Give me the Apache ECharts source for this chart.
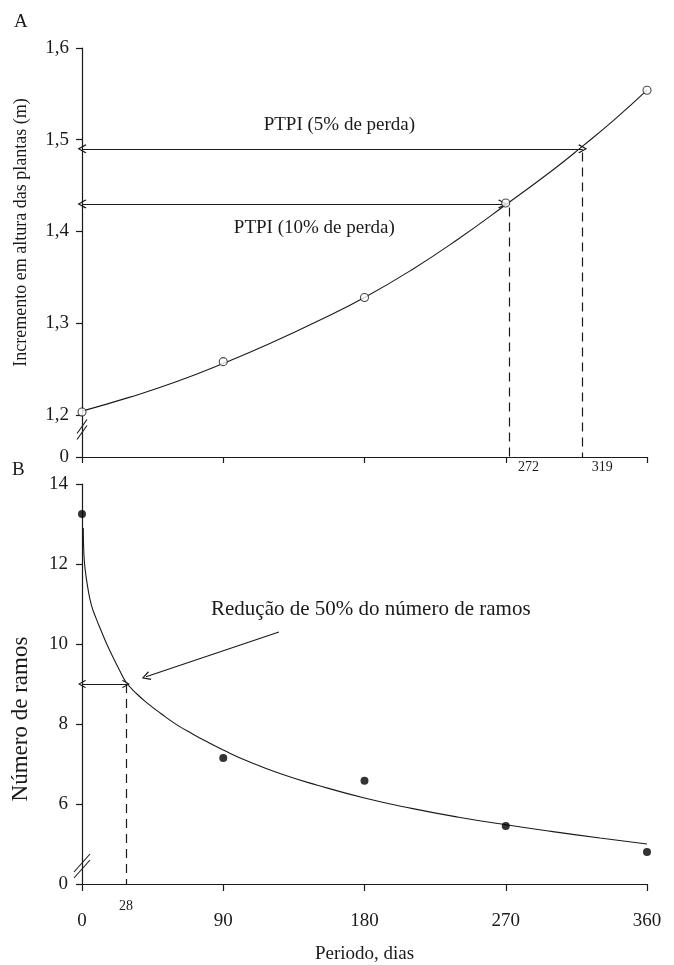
<!DOCTYPE html>
<html><head><meta charset="utf-8">
<script src="https://cdn.jsdelivr.net/npm/echarts@6/dist/echarts.min.js"></script>
<style>html,body{margin:0;padding:0;background:#fff}#c{width:674px;height:965px}</style>
</head><body><div id="c"></div>
<script>
const FONT = "'Liberation Serif','Times New Roman',serif";
const INK = '#1a1a1a';

// ---------- Panel A: Incremento em altura ----------
const heightDays = [0, 90, 180, 270, 360];
const heightValues = [1.203, 1.258, 1.328, 1.431, 1.554];
const heightCurveDays = [0, 30, 60, 90, 120, 150, 180, 210, 240, 270, 300, 319, 340, 360];
const heightCurveValues = [1.204, 1.219, 1.236, 1.256, 1.278, 1.302, 1.328, 1.358, 1.392, 1.429, 1.467, 1.493, 1.523, 1.554];
const heightTicks = [1.154, 1.2, 1.3, 1.4, 1.5, 1.6];
const heightTickLabels = ['0', '1,2', '1,3', '1,4', '1,5', '1,6'];
const heightMarkDays = [272, 319];
const ptpi10 = {day: 272, value: 1.43, label: 'PTPI (10% de perda)', labelAt: [148, 1.404]};
const ptpi5 = {day: 319, value: 1.49, label: 'PTPI (5% de perda)', labelAt: [164, 1.516]};

// ---------- Panel B: Número de ramos ----------
const branchDays = [0, 90, 180, 270, 360];
const branchValues = [13.25, 7.15, 6.58, 5.45, 4.8];
const branchCurveDays = [0.8, 1.2, 2, 3.6, 6, 9, 12, 16, 20, 24, 28, 35, 42, 50, 60, 71, 80, 90, 105, 127, 150, 180, 210, 240, 270, 300, 330, 360];
const branchCurveValues = [12.9, 12.25, 11.87, 11.43, 10.97, 10.64, 10.35, 9.98, 9.65, 9.34, 9.05, 8.75, 8.51, 8.27, 7.99, 7.74, 7.55, 7.35, 7.08, 6.75, 6.47, 6.15, 5.89, 5.67, 5.48, 5.31, 5.15, 5.0];
const branchTicks = [4, 6, 8, 10, 12, 14];
const branchTickLabels = ['0', '6', '8', '10', '12', '14'];
const dayTicks = [0, 90, 180, 270, 360];
const half = {day: 28, value: 9.0};
const halfNote = {text: 'Redução de 50% do número de ramos', labelAt: [184, 10.875], from: [125.5, 10.3], to: [40.8, 9.18]};

const ARROW = 'path://M50,0 L100,88 L90,100 L50,26 L10,100 L0,88 Z';

function fmt(ticks, labels) {
  return v => { let i = ticks.findIndex(t => Math.abs(t - v) < 1e-6); return i >= 0 ? labels[i] : ''; };
}
const lineS = {color: INK, width: 1.2, type: 'solid'};
const dashS = {color: INK, width: 1.2, type: [9, 6]};
const noteLabel = (at, txt, size) => ({
  coord: at, symbol: 'rect', symbolSize: 1, itemStyle: {color: 'rgba(0,0,0,0)'},
  label: {show: true, position: 'inside', formatter: txt, color: INK, fontFamily: FONT, fontSize: size}
});

const chart = echarts.init(document.getElementById('c'), null, {renderer: 'canvas'});
const axisTextStyle = {color: INK, fontFamily: FONT, fontSize: 19};

chart.setOption({
  animation: false,
  backgroundColor: '#fff',
  title: [
    {text: 'A', left: 14, top: 13, padding: 0, textStyle: {color: INK, fontFamily: FONT, fontSize: 19, fontWeight: 'normal'}},
    {text: 'B', left: 12, top: 461, padding: 0, textStyle: {color: INK, fontFamily: FONT, fontSize: 19, fontWeight: 'normal'}}
  ],
  grid: [
    {left: 82, right: 27, top: 48, bottom: 965 - 457},
    {left: 82, right: 27, top: 484, bottom: 965 - 885}
  ],
  xAxis: [
    {gridIndex: 0, type: 'value', min: 0, max: 360, position: 'bottom',
     axisLine: {lineStyle: {color: INK, width: 1.2}},
     axisTick: {customValues: dayTicks, length: 6, lineStyle: {color: INK, width: 1.2}},
     axisLabel: {customValues: heightMarkDays, align: 'left', margin: 3, padding: [0, 0, 0, 9], color: INK, fontFamily: FONT, fontSize: 14},
     splitLine: {show: false}},
    {gridIndex: 1, type: 'value', min: 0, max: 360, position: 'bottom',
     name: 'Periodo, dias', nameLocation: 'middle', nameGap: 61,
     nameTextStyle: {color: INK, fontFamily: FONT, fontSize: 19},
     axisLine: {lineStyle: {color: INK, width: 1.2}},
     axisTick: {customValues: dayTicks, length: 7, lineStyle: {color: INK, width: 1.2}},
     axisLabel: Object.assign({customValues: dayTicks, margin: 28}, axisTextStyle),
     splitLine: {show: false}},
    {gridIndex: 1, type: 'value', min: 0, max: 360, position: 'bottom', offset: 0,
     axisLine: {show: false}, axisTick: {show: false},
     axisLabel: {customValues: [half.day], margin: 15, color: INK, fontFamily: FONT, fontSize: 14},
     splitLine: {show: false}}
  ],
  yAxis: [
    {gridIndex: 0, type: 'value', min: heightTicks[0], max: 1.6,
     name: 'Incremento em altura das plantas (m)', nameLocation: 'middle', nameGap: 52,
     nameTextStyle: {color: INK, fontFamily: FONT, fontSize: 18, padding: [0, 0, 0, 40]},
     axisLine: {lineStyle: {color: INK, width: 1.2}},
     axisTick: {customValues: heightTicks, length: 6, lineStyle: {color: INK, width: 1.2}},
     axisLabel: Object.assign({customValues: heightTicks, margin: 13, formatter: fmt(heightTicks, heightTickLabels)}, axisTextStyle),
     splitLine: {show: false}},
    {gridIndex: 1, type: 'value', min: 4, max: 14,
     name: 'Número de ramos', nameLocation: 'middle', nameGap: 50,
     nameTextStyle: {color: INK, fontFamily: FONT, fontSize: 23, padding: [0, 70, 0, 0]},
     axisLine: {lineStyle: {color: INK, width: 1.2}},
     axisTick: {customValues: branchTicks, length: 6, lineStyle: {color: INK, width: 1.2}},
     axisLabel: Object.assign({customValues: branchTicks, margin: 14, formatter: fmt(branchTicks, branchTickLabels)}, axisTextStyle),
     splitLine: {show: false}}
  ],
  series: [
    {type: 'line', xAxisIndex: 0, yAxisIndex: 0, smooth: true, symbol: 'none', silent: true,
     data: heightCurveDays.map((d, i) => [d, heightCurveValues[i]]),
     lineStyle: {color: INK, width: 1.1},
     markLine: {silent: true, symbol: 'none', label: {show: false}, animation: false,
       data: [
         [{coord: [0, ptpi5.value], symbol: ARROW, symbolSize: [9, 9], lineStyle: lineS}, {coord: [ptpi5.day, ptpi5.value], symbol: ARROW, symbolSize: [9, 9]}],
         [{coord: [0, ptpi10.value], symbol: ARROW, symbolSize: [9, 9], lineStyle: lineS}, {coord: [ptpi10.day - 4, ptpi10.value], symbol: ARROW, symbolSize: [9, 9]}],
         [{coord: [ptpi10.day, ptpi10.value - 0.004], lineStyle: dashS}, {coord: [ptpi10.day, heightTicks[0]]}],
         [{coord: [ptpi5.day, ptpi5.value - 0.004], lineStyle: dashS}, {coord: [ptpi5.day, heightTicks[0]]}]
       ]},
     markPoint: {silent: true, animation: false, data: [noteLabel(ptpi5.labelAt, ptpi5.label, 19), noteLabel(ptpi10.labelAt, ptpi10.label, 19)]}
    },
    {type: 'scatter', xAxisIndex: 0, yAxisIndex: 0, symbol: 'circle', symbolSize: 8, z: 5, silent: true,
     data: heightDays.map((d, i) => [d, heightValues[i]]),
     itemStyle: {color: '#fff', borderColor: INK, borderWidth: 1.1}},
    {type: 'line', xAxisIndex: 1, yAxisIndex: 1, smooth: 0.5, symbol: 'none', silent: true,
     data: branchCurveDays.map((d, i) => [d, branchCurveValues[i]]),
     lineStyle: {color: INK, width: 1.1},
     markLine: {silent: true, symbol: 'none', label: {show: false}, animation: false,
       data: [
         [{coord: [0, half.value], symbol: ARROW, symbolSize: [8, 8], lineStyle: lineS}, {coord: [half.day, half.value], symbol: ARROW, symbolSize: [8, 8]}],
         [{coord: [half.day, half.value], lineStyle: dashS}, {coord: [half.day, 4]}],
         [{coord: halfNote.from, symbol: 'none', lineStyle: lineS}, {coord: halfNote.to, symbol: ARROW, symbolSize: [9, 9]}]
       ]},
     markPoint: {silent: true, animation: false, data: [noteLabel(halfNote.labelAt, halfNote.text, 21)]}
    },
    {type: 'scatter', xAxisIndex: 1, yAxisIndex: 1, symbol: 'circle', symbolSize: 8, z: 5, silent: true,
     data: branchDays.map((d, i) => [d, branchValues[i]]),
     itemStyle: {color: '#000'}}
  ]
});

// axis break marks (//) drawn at axis positions obtained from the chart's own scales
function breakMarks(xi, yi, val, w, h) {
  const p = chart.convertToPixel({xAxisIndex: xi, yAxisIndex: yi}, [0, val]);
  const mk = dy => ({type: 'line', silent: true, z: 10,
    shape: {x1: p[0] - w / 2, y1: p[1] + h / 2 + dy, x2: p[0] + w / 2, y2: p[1] - h / 2 + dy},
    style: {stroke: INK, lineWidth: 1.1}});
  return [mk(-3), mk(3)];
}
chart.setOption({graphic: [...breakMarks(0, 0, 1.184, 10, 14), ...breakMarks(1, 1, 4.45, 16, 18)]});
</script></body></html>
